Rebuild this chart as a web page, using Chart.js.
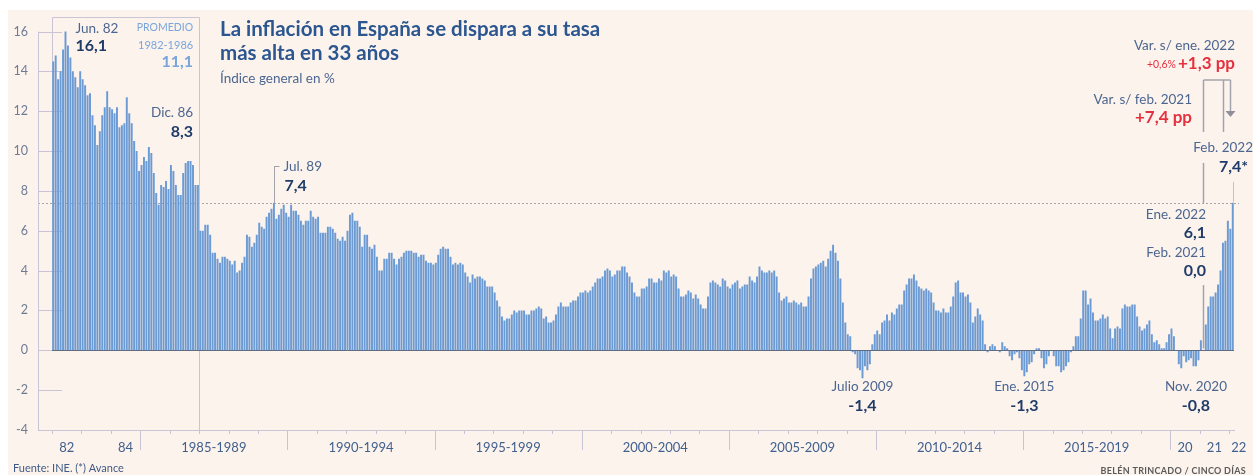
<!DOCTYPE html>
<html lang="es">
<head>
<meta charset="utf-8">
<title>La inflación en España</title>
<script src="https://cdn.jsdelivr.net/npm/chart.js@4.4.1/dist/chart.umd.min.js"></script>
<style>
  html, body { margin: 0; padding: 0; background: #fff; }
  #wrap { width: 1253px; height: 475px; }
</style>
</head>
<body>
<div id="wrap"><canvas id="ipcChart" width="1253" height="475"></canvas></div>
<script>
// IPC general, tasa interanual en %, de enero de 1982 a febrero de 2022
const startYear = 1982;
const ipc1982_1984 = [
  14.5, 14.8, 13.6, 14.0, 15.1, 16.1, 15.3, 14.7, 14.0, 13.7, 13.2, 14.0,
  13.6, 13.3, 12.8, 12.9, 11.8, 11.3, 10.3, 11.0, 11.8, 12.2, 13.0, 12.2,
  12.1, 11.9, 12.2, 11.2, 11.3, 11.4, 12.7, 11.9, 11.4, 10.5, 10.0, 9.0
];
const ipc1985_1989 = [
  9.3, 9.7, 9.5, 10.2, 9.9, 8.9, 7.9, 7.3, 8.3, 8.2, 8.5, 8.1,
  9.3, 9.0, 8.3, 7.8, 7.8, 8.9, 9.4, 9.5, 9.5, 9.3, 8.3, 8.3,
  6.0, 6.0, 6.3, 6.3, 5.8, 4.9, 4.9, 4.6, 4.4, 4.7, 4.7, 4.6,
  4.5, 4.3, 4.5, 3.9, 4.0, 4.4, 4.7, 5.8, 5.7, 5.2, 5.4, 5.8,
  6.4, 6.2, 6.1, 6.7, 6.9, 7.1, 7.4, 6.6, 6.8, 7.1, 7.3, 6.9
];
const ipc1990_1994 = [
  6.7, 7.3, 7.0, 7.0, 6.8, 6.5, 6.3, 6.5, 6.5, 7.0, 6.7, 6.6,
  6.7, 5.9, 5.9, 5.9, 6.2, 6.2, 6.1, 5.9, 5.6, 5.5, 5.7, 5.5,
  6.0, 6.8, 6.9, 6.5, 6.5, 6.2, 5.2, 5.8, 5.8, 5.2, 5.1, 5.3,
  4.7, 4.0, 4.0, 4.6, 4.6, 4.9, 4.9, 4.6, 4.3, 4.6, 4.7, 4.9,
  5.0, 5.0, 5.0, 4.9, 4.9, 4.7, 4.8, 4.8, 4.5, 4.4, 4.4, 4.3
];
const ipc1995_1999 = [
  4.4, 4.8, 5.1, 5.2, 5.1, 5.1, 4.7, 4.3, 4.4, 4.3, 4.4, 4.3,
  3.9, 3.7, 3.4, 3.8, 3.6, 3.7, 3.7, 3.6, 3.5, 3.2, 3.2, 3.2,
  2.9, 2.5, 2.2, 1.7, 1.5, 1.6, 1.6, 1.8, 2.0, 1.9, 2.0, 2.0,
  2.0, 1.8, 1.8, 2.0, 2.0, 2.1, 2.2, 2.1, 1.6, 1.7, 1.4, 1.4,
  1.5, 1.8, 2.2, 2.4, 2.2, 2.2, 2.2, 2.4, 2.5, 2.5, 2.7, 2.9
];
const ipc2000_2004 = [
  2.9, 3.0, 2.9, 3.0, 3.2, 3.4, 3.6, 3.6, 3.7, 4.0, 4.1, 4.0,
  3.7, 3.8, 4.0, 4.0, 4.2, 4.2, 3.9, 3.7, 3.4, 2.9, 2.7, 2.7,
  3.1, 3.1, 3.2, 3.6, 3.6, 3.4, 3.4, 3.6, 3.5, 4.0, 3.9, 4.0,
  3.7, 3.8, 3.7, 3.1, 2.7, 2.7, 2.8, 3.0, 2.9, 2.6, 2.8, 2.6,
  2.3, 2.1, 2.1, 2.7, 3.4, 3.5, 3.4, 3.3, 3.2, 3.6, 3.5, 3.2
];
const ipc2005_2009 = [
  3.1, 3.3, 3.4, 3.5, 3.1, 3.2, 3.3, 3.3, 3.7, 3.5, 3.4, 3.7,
  4.2, 4.0, 3.9, 3.9, 4.0, 3.9, 4.0, 3.7, 2.9, 2.5, 2.6, 2.7,
  2.4, 2.4, 2.5, 2.4, 2.3, 2.4, 2.2, 2.2, 2.7, 3.6, 4.1, 4.2,
  4.3, 4.4, 4.5, 4.2, 4.6, 5.0, 5.3, 4.9, 4.5, 3.6, 2.4, 1.4,
  0.8, 0.7, -0.1, -0.2, -0.9, -1.0, -1.4, -0.8, -1.0, -0.7, 0.3, 0.8
];
const ipc2010_2014 = [
  1.0, 0.8, 1.4, 1.5, 1.8, 1.5, 1.9, 1.8, 2.1, 2.3, 2.3, 3.0,
  3.3, 3.6, 3.6, 3.8, 3.5, 3.2, 3.1, 3.0, 3.1, 3.0, 2.9, 2.4,
  2.0, 2.0, 1.9, 2.1, 1.9, 1.9, 2.2, 2.7, 3.4, 3.5, 2.9, 2.9,
  2.7, 2.8, 2.4, 1.4, 1.7, 2.1, 1.8, 1.5, 0.3, -0.1, 0.2, 0.3,
  0.2, 0.0, -0.1, 0.4, 0.2, 0.1, -0.3, -0.5, -0.2, -0.1, -0.4, -1.0
];
const ipc2015_2019 = [
  -1.3, -1.1, -0.7, -0.6, -0.2, 0.1, 0.1, -0.4, -0.9, -0.7, -0.3, 0.0,
  -0.3, -0.8, -0.8, -1.1, -1.0, -0.8, -0.6, -0.1, 0.2, 0.7, 0.7, 1.6,
  3.0, 3.0, 2.3, 2.6, 1.9, 1.5, 1.5, 1.6, 1.8, 1.6, 1.7, 1.1,
  0.6, 1.1, 1.2, 1.1, 2.1, 2.3, 2.2, 2.2, 2.3, 2.3, 1.7, 1.2,
  1.0, 1.1, 1.3, 1.5, 0.8, 0.4, 0.5, 0.3, 0.1, 0.1, 0.4, 0.8
];
const ipc2020_2022 = [
  1.1, 0.7, 0.0, -0.7, -0.9, -0.3, -0.6, -0.5, -0.4, -0.8, -0.8, -0.5,
  0.5, 0.0, 1.3, 2.2, 2.7, 2.7, 2.9, 3.3, 4.0, 5.4, 5.5, 6.5,
  6.1, 7.4
];

// etiquetas del eje: texto y tramo de años que ocupa cada una
const periodLabels = ['82', '84', '1985-1989', '1990-1994', '1995-1999', '2000-2004', '2005-2009', '2010-2014', '2015-2019', '20', '21', '22'];
const periodSpans = [[1982, 1983], [1984, 1985], [1985, 1990], [1990, 1995], [1995, 2000], [2000, 2005], [2005, 2010], [2010, 2015], [2015, 2020], [2020, 2021], [2021, 2022], [2022, 2022.66]];
const yTicks = [-4, -2, 0, 2, 4, 6, 8, 10, 12, 14, 16];
const referenceLevel = 7.4;

const values = [].concat(ipc1982_1984, ipc1985_1989, ipc1990_1994, ipc1995_1999,
  ipc2000_2004, ipc2005_2009, ipc2010_2014, ipc2015_2019, ipc2020_2022);
const months = values.map((v, i) => (startYear + Math.floor(i / 12)) + '-' + String(i % 12 + 1).padStart(2, '0'));

function monthIndex(year, month) {
  return (year - startYear) * 12 + (month - 1);
}

function txt(c, str, x, y, font, color, align, spacing) {
  c.save();
  c.font = font;
  c.fillStyle = color;
  c.textAlign = align || 'left';
  c.textBaseline = 'alphabetic';
  c.letterSpacing = spacing || '0px';
  c.fillText(str, x, y);
  c.restore();
}

function line(c, x1, y1, x2, y2, color, width, dash) {
  c.save();
  c.strokeStyle = color;
  c.lineWidth = width || 1;
  c.setLineDash(dash || []);
  c.beginPath();
  c.moveTo(x1, y1);
  c.lineTo(x2, y2);
  c.stroke();
  c.restore();
}

const LABEL = '#4b6690';
const NUM = '#1f3b68';
const LIGHT = '#78a5dc';
const RED = '#e5303f';
const RULE = '#c9c5d6';
const LEADER = '#a3a3ad';

const decorations = {
  id: 'decorations',
  beforeDraw(chart) {
    const c = chart.ctx;
    c.save();
    c.fillStyle = '#ffffff';
    c.fillRect(0, 0, chart.width, chart.height);
    c.fillStyle = '#fdf3ed';
    c.fillRect(8, 10, chart.width - 8, chart.height - 10);
    c.restore();
  },
  beforeDatasetsDraw(chart) {
    const c = chart.ctx;
    const xs = chart.scales.x, ys = chart.scales.y;
    const edge = i => xs.getPixelForValue(i - 0.5);
    const axisX = 38;

    // línea de referencia en 7,4
    const yRef = Math.round(ys.getPixelForValue(referenceLevel)) + 0.5;
    line(c, axisX, yRef, xs.right + 5, yRef, '#a8a4a8', 1, [2, 2]);

    // eje vertical y marcas
    line(c, axisX + 0.5, ys.top, axisX + 0.5, ys.bottom, RULE, 1);
    yTicks.forEach(v => {
      const y = Math.round(ys.getPixelForValue(v)) + 0.5;
      line(c, axisX, y, axisX + 24, y, RULE, 1);
    });

    // recuadro del promedio 1982-1986
    const bx1 = Math.round(edge(0)) + 0.5, bx2 = Math.round(edge(monthIndex(1987, 1))) + 0.5;
    line(c, bx1, 17.5, bx2, 17.5, RULE, 1);
    line(c, bx1, 17.5, bx1, ys.getPixelForValue(0), RULE, 1);
    line(c, bx2, 17.5, bx2, ys.bottom, RULE, 1);
  },
  afterDatasetsDraw(chart) {
    const c = chart.ctx;
    const xs = chart.scales.x, ys = chart.scales.y;
    const edge = i => xs.getPixelForValue(i - 0.5);
    const mid = i => xs.getPixelForValue(i);
    const axisX = 38;
    const base = ys.bottom;

    // línea de cero
    const y0 = Math.round(ys.getPixelForValue(0)) + 0.5;
    line(c, xs.left, y0, xs.right, y0, '#5f6b80', 1);

    // eje horizontal con marcas anuales
    line(c, axisX, base + 0.5, xs.right + 1, base + 0.5, RULE, 1);
    for (let yr = startYear; yr <= 2022; yr++) {
      const x = Math.round(edge(monthIndex(yr, 1))) + 0.5;
      const long = yr % 5 === 0;
      line(c, x, base, x, base + (long ? 20 : 4), RULE, 1);
    }
    periodLabels.forEach((lab, k) => {
      const [a, b] = periodSpans[k];
      const cx = (edge(monthIndex(a, 1)) + edge(monthIndex(b, 1))) / 2;
      txt(c, lab, cx, 452, '13px Lato', '#40608e', 'center');
    });

    // título
    txt(c, 'La inflación en España se dispara a su tasa', 220, 36, 'bold 20.5px Lato', '#2b5690', 'left');
    txt(c, 'más alta en 33 años', 220, 60, 'bold 20.5px Lato', '#2b5690', 'left');
    txt(c, 'Índice general en %', 220, 82.5, '13.5px Lato', LABEL, 'left');

    // anotaciones del periodo 1982-1986
    const xJun82 = mid(monthIndex(1982, 6));
    txt(c, 'Jun. 82', xJun82 + 10, 32.5, '13.5px Lato', LABEL, 'left');
    txt(c, '16,1', xJun82 + 10, 51, 'bold 16px Lato', NUM, 'left');
    const xBox = edge(monthIndex(1987, 1)) - 6;
    txt(c, 'PROMEDIO', xBox, 30.5, '10.5px Lato', LIGHT, 'right');
    txt(c, '1982-1986', xBox, 49, '11px Lato', LIGHT, 'right');
    txt(c, '11,1', xBox, 67, 'bold 16px Lato', LIGHT, 'right');
    txt(c, 'Dic. 86', xBox, 116.5, '13.5px Lato', LABEL, 'right');
    txt(c, '8,3', xBox, 136.5, 'bold 16px Lato', NUM, 'right');

    // julio 1989
    const iJul89 = monthIndex(1989, 7);
    const xJul89 = Math.round(mid(iJul89)) + 0.5;
    line(c, xJul89, 166, xJul89, ys.getPixelForValue(values[iJul89]), LEADER, 1);
    line(c, xJul89, 166.5, xJul89 + 5, 166.5, LEADER, 1);
    txt(c, 'Jul. 89', xJul89 + 9, 170.5, '13.5px Lato', LABEL, 'left');
    txt(c, '7,4', xJul89 + 10, 190.5, 'bold 16px Lato', NUM, 'left');

    // mínimos
    [[monthIndex(2009, 7), 'Julio 2009', '-1,4'],
     [monthIndex(2015, 1), 'Ene. 2015', '-1,3'],
     [monthIndex(2020, 11), 'Nov. 2020', '-0,8']].forEach(([i, l1, l2]) => {
      const x = mid(i);
      txt(c, l1, x, 391, '13.5px Lato', LABEL, 'center');
      txt(c, l2, x, 410.5, 'bold 16px Lato', NUM, 'center');
    });

    // final de la serie
    const iFeb21 = monthIndex(2021, 2), iJan22 = monthIndex(2022, 1), iFeb22 = monthIndex(2022, 2);
    const xFeb21 = Math.round(mid(iFeb21)) + 0.5;
    const xOct21 = Math.round(mid(monthIndex(2021, 10))) + 0.5;
    const xJan22 = Math.round(mid(iJan22)) + 0.5;
    const xFeb22 = Math.round(mid(iFeb22)) + 0.5;
    const lw = 1.5;
    line(c, xFeb21, 80, xJan22, 80, LEADER, lw);
    line(c, xFeb21, 80, xFeb21, 132, LEADER, lw);
    line(c, xOct21, 80, xOct21, 132, LEADER, lw);
    line(c, xJan22, 80, xJan22, 112, LEADER, lw);
    c.save();
    c.fillStyle = '#8f8f99';
    c.beginPath();
    c.moveTo(xJan22 - 5, 111);
    c.lineTo(xJan22 + 5, 111);
    c.lineTo(xJan22, 117);
    c.closePath();
    c.fill();
    c.restore();
    line(c, xFeb21, 163, xFeb21, 203, LEADER, lw);
    line(c, xFeb21, 285, xFeb21, y0 - 2, LEADER, lw);
    line(c, xFeb22, 182, xFeb22, ys.getPixelForValue(values[iFeb22]) - 1, '#c3c0c8', 1);

    txt(c, 'Var. s/ ene. 2022', 1235, 50, '13.5px Lato', LABEL, 'right');
    txt(c, '+1,3 pp', 1235, 68.5, 'bold 17px Lato', RED, 'right');
    txt(c, '+0,6%', 1176, 68, '10.5px Lato', RED, 'right');
    txt(c, 'Var. s/ feb. 2021', 1192, 103.5, '13.5px Lato', LABEL, 'right');
    txt(c, '+7,4 pp', 1192, 122.5, 'bold 17px Lato', RED, 'right');
    txt(c, 'Feb. 2022', 1253, 151.5, '13.5px Lato', LABEL, 'right');
    txt(c, '7,4*', 1248, 171.5, 'bold 16px Lato', NUM, 'right');
    txt(c, 'Ene. 2022', 1206, 219, '13.5px Lato', LABEL, 'right');
    txt(c, '6,1', 1206, 237.5, 'bold 16px Lato', NUM, 'right');
    txt(c, 'Feb. 2021', 1206, 256.5, '13.5px Lato', LABEL, 'right');
    txt(c, '0,0', 1206, 276, 'bold 16px Lato', NUM, 'right');

    // pie
    txt(c, 'Fuente: INE. (*) Avance', 13, 472, '11px Lato', '#3f5a85', 'left');
    txt(c, 'BELÉN TRINCADO / CINCO DÍAS', 1246, 473.5, 'bold 9px Lato', '#5a5a5a', 'right', '0.3px');
  }
};

const ctx = document.getElementById('ipcChart').getContext('2d');
const ipcChart = new Chart(ctx, {
  type: 'bar',
  data: {
    labels: months,
    datasets: [{
      label: 'IPC',
      data: values,
      backgroundColor: '#6c9bd4',
      borderWidth: 0,
      barPercentage: 0.8,
      categoryPercentage: 1.0
    }]
  },
  options: {
    responsive: false,
    animation: false,
    devicePixelRatio: 1,
    layout: { padding: { left: 0, right: 19, top: 21, bottom: 45 } },
    plugins: {
      legend: { display: false },
      tooltip: { enabled: false }
    },
    scales: {
      x: { display: false, offset: true },
      y: {
        min: -4,
        max: 16,
        afterFit(scale) { scale.width = 52; },
        afterBuildTicks(scale) { scale.ticks = yTicks.map(v => ({ value: v })); },
        grid: { display: false, drawTicks: false },
        border: { display: false },
        ticks: {
          font: { family: 'Lato', size: 12.5 },
          color: '#6e7b93',
          padding: 24
        }
      }
    }
  },
  plugins: [decorations]
});
</script>
</body>
</html>
